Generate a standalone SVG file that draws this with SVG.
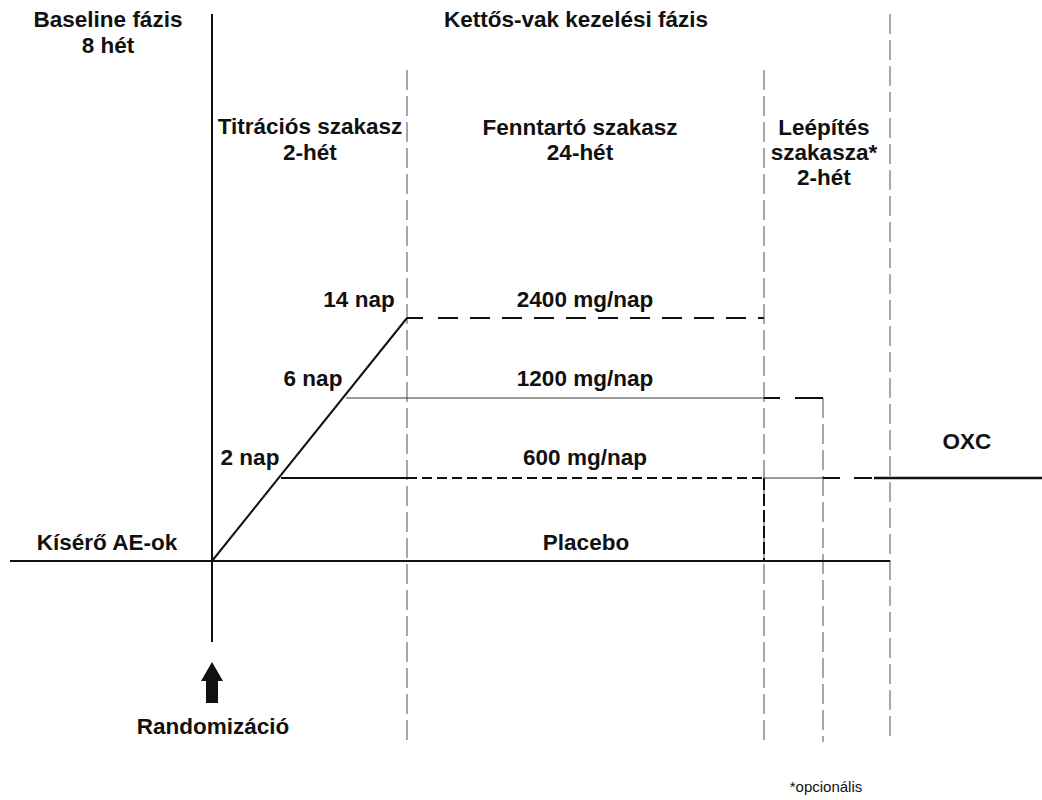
<svg xmlns="http://www.w3.org/2000/svg" width="1042" height="800" viewBox="0 0 1042 800">
<style>
text{font-family:"Liberation Sans",Arial,sans-serif;font-weight:bold;font-size:22.5px;fill:#111;text-anchor:middle}
.note{font-weight:normal;font-size:15px}
.grid{stroke:#8a8a8a;stroke-width:1.5;stroke-dasharray:20 6;fill:none}
.solid{stroke:#111;stroke-width:2;fill:none}
.thin{stroke:#333;stroke-width:1;fill:none}
.dashL{stroke:#111;stroke-width:2;stroke-dasharray:20 12;fill:none}
.dashS{stroke:#111;stroke-width:2;stroke-dasharray:10 5;fill:none}
</style>
<rect width="1042" height="800" fill="#fff"/>
<g id="connectors">
<line class="grid" x1="407" y1="70" x2="407" y2="742"/>
<line class="grid" x1="764" y1="70" x2="764" y2="742"/>
<line class="grid" x1="890" y1="14" x2="890" y2="742"/>
<line class="grid" x1="823" y1="398" x2="823" y2="742"/>
<line class="solid" x1="212" y1="14" x2="212" y2="642"/>
<line class="solid" x1="10" y1="561" x2="890" y2="561"/>
<line class="solid" x1="212" y1="561" x2="407" y2="318"/>
<line class="solid" x1="407" y1="318" x2="423" y2="318"/>
<line class="dashL" x1="438" y1="318" x2="764" y2="318"/>
<line class="thin" x1="346" y1="398" x2="764" y2="398"/>
<line class="solid" x1="764" y1="398" x2="780" y2="398"/>
<line class="solid" x1="795" y1="398" x2="823" y2="398"/>
<line class="solid" x1="281" y1="478" x2="407" y2="478"/>
<line class="dashS" x1="407" y1="478" x2="764" y2="478"/>
<line stroke="#111" stroke-width="2" stroke-dasharray="12 4" x1="764" y1="478" x2="764" y2="561"/>
<line class="thin" x1="764" y1="478" x2="823" y2="478"/>
<line class="solid" x1="823" y1="478" x2="840" y2="478"/>
<line class="solid" x1="854" y1="478" x2="872" y2="478"/>
<line stroke="#111" stroke-width="2.5" x1="874" y1="478" x2="1042" y2="478"/>
<polygon points="212,662 223,681 218,681 218,703 206,703 206,681 201,681" fill="#111"/>
</g>
<g id="baseline"><text x="108" y="27">Baseline fázis</text><text x="108" y="53">8 hét</text></g>
<g id="doubleblind"><text x="576" y="27">Kettős-vak kezelési fázis</text></g>
<g id="titration"><text x="310" y="134">Titrációs szakasz</text><text x="310" y="160">2-hét</text></g>
<g id="maintenance"><text x="580" y="135">Fenntartó szakasz</text><text x="580" y="160">24-hét</text></g>
<g id="taper"><text x="824" y="135">Leépítés</text><text x="824" y="160">szakasza*</text><text x="824" y="185">2-hét</text></g>
<g id="d14"><text x="359" y="307">14 nap</text></g>
<g id="d6"><text x="313" y="386">6 nap</text></g>
<g id="d2"><text x="250" y="465">2 nap</text></g>
<g id="dose2400"><text x="585" y="307">2400 mg/nap</text></g>
<g id="dose1200"><text x="585" y="386">1200 mg/nap</text></g>
<g id="dose600"><text x="585" y="465">600 mg/nap</text></g>
<g id="oxc"><text x="967" y="449">OXC</text></g>
<g id="concomitant"><text x="107" y="550">Kísérő AE-ok</text></g>
<g id="placebo"><text x="586" y="550">Placebo</text></g>
<g id="randomization"><text x="213" y="734">Randomizáció</text></g>
<g id="footnote"><text class="note" x="826" y="792">*opcionális</text></g>
</svg>
